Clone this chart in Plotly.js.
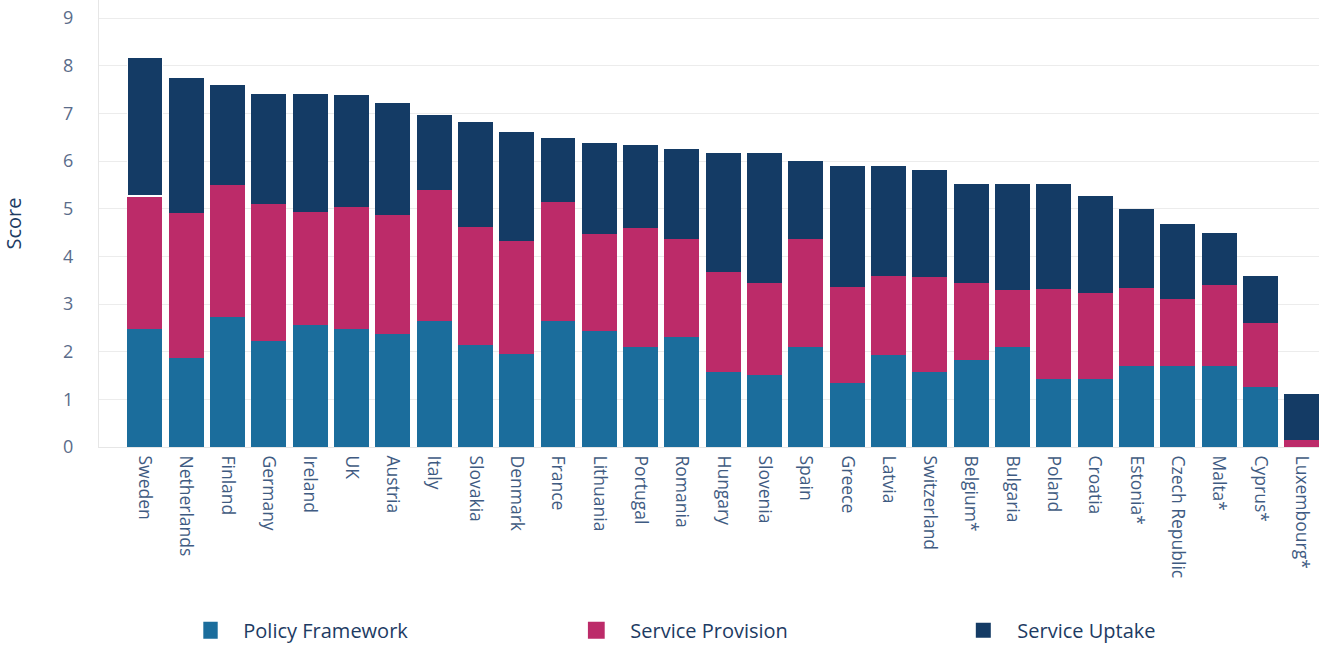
<!DOCTYPE html>
<html>
<head>
<meta charset="utf-8">
<script src="https://cdn.plot.ly/plotly-3.0.1.min.js"></script>
<style>
  html, body { margin: 0; padding: 0; background: #ffffff; }
  #chart { width: 1327px; height: 646px; }
</style>
</head>
<body>
<div id="chart"></div>
<script>
const countries = ["Sweden", "Netherlands", "Finland", "Germany", "Ireland", "UK", "Austria", "Italy",
  "Slovakia", "Denmark", "France", "Lithuania", "Portugal", "Romania", "Hungary", "Slovenia", "Spain",
  "Greece", "Latvia", "Switzerland", "Belgium*", "Bulgaria", "Poland", "Croatia", "Estonia*",
  "Czech Republic", "Malta*", "Cyprus*", "Luxembourg*"];

const policyFramework = [2.47, 1.87, 2.72, 2.22, 2.56, 2.47, 2.37, 2.64, 2.14, 1.95, 2.64, 2.43, 2.09, 2.30,
  1.57, 1.51, 2.09, 1.34, 1.93, 1.57, 1.83, 2.09, 1.42, 1.42, 1.69, 1.69, 1.69, 1.26, 0];

const serviceProvision = [2.80, 3.04, 2.77, 2.88, 2.37, 2.56, 2.50, 2.75, 2.47, 2.37, 2.50, 2.04, 2.50, 2.06,
  2.10, 1.93, 2.27, 2.01, 1.65, 1.99, 1.61, 1.20, 1.89, 1.81, 1.64, 1.41, 1.70, 1.34, 0.14];

const serviceUptake = [2.91, 2.83, 2.10, 2.31, 2.48, 2.35, 2.35, 1.58, 2.21, 2.29, 1.34, 1.91, 1.74, 1.89,
  2.50, 2.73, 1.64, 2.54, 2.31, 2.25, 2.08, 2.23, 2.21, 2.03, 1.66, 1.58, 1.10, 0.98, 0.97];

const seriesNames = ["Policy Framework", "Service Provision", "Service Uptake"];
const seriesColors = ["#1b6d9c", "#bc2b69", "#143b65"];
const yTicks = [0, 1, 2, 3, 4, 5, 6, 7, 8, 9];

const seriesValues = [policyFramework, serviceProvision, serviceUptake];
const traces = seriesValues.map((vals, i) => ({
  type: "bar",
  name: seriesNames[i],
  x: countries,
  y: vals,
  marker: {
    color: seriesColors[i],
    line: i === 2
      ? { color: "#ffffff", width: countries.map((c, k) => (k === 0 ? 1.3 : 0)) }
      : { width: 0 }
  },
  hoverinfo: "x+y+name"
}));

const layout = {
  width: 1327,
  height: 646,
  margin: { l: 99, r: 8, t: 0, b: 199, pad: 0, autoexpand: false },
  barmode: "stack",
  bargap: 0.153,
  paper_bgcolor: "#ffffff",
  plot_bgcolor: "#ffffff",
  font: { family: "Open Sans, sans-serif", color: "#1d3b63" },
  showlegend: true,
  xaxis: {
    type: "category",
    range: [-1.11, 28.42],
    tickangle: 90,
    tickfont: { size: 17.5, color: "#3f5b82" },
    showgrid: false,
    showline: true,
    linecolor: "#e6e6e6",
    linewidth: 1,
    ticks: "",
    ticklabelstandoff: 4,
    automargin: false,
    fixedrange: true
  },
  yaxis: {
    range: [0, 9.38],
    tickvals: yTicks,
    ticktext: yTicks.map(String),
    showgrid: true,
    gridcolor: "#ececec",
    gridwidth: 1,
    showline: true,
    linecolor: "#e6e6e6",
    linewidth: 1,
    zeroline: false,
    ticks: "",
    ticklabelstandoff: 21,
    tickfont: { size: 18, color: "#5a6c8a" },
    title: { text: "Score", font: { size: 20, color: "#1d3b63" }, standoff: 42 },
    automargin: false,
    fixedrange: true
  },
  legend: {
    orientation: "h",
    x: 0.0855,
    xanchor: "left",
    y: -0.41,
    yanchor: "middle",
    font: { size: 20, color: "#1d3b63" },
    entrywidth: 342,
    entrywidthmode: "pixels",
    traceorder: "normal",
    bgcolor: "rgba(0,0,0,0)"
  }
};

Plotly.newPlot("chart", traces, layout, { displayModeBar: false }).then(gd => {
  gd.querySelectorAll(".legendpoints path").forEach(p => {
    p.setAttribute("transform", "translate(6,0) scale(1.4)");
  });
});
</script>
</body>
</html>
